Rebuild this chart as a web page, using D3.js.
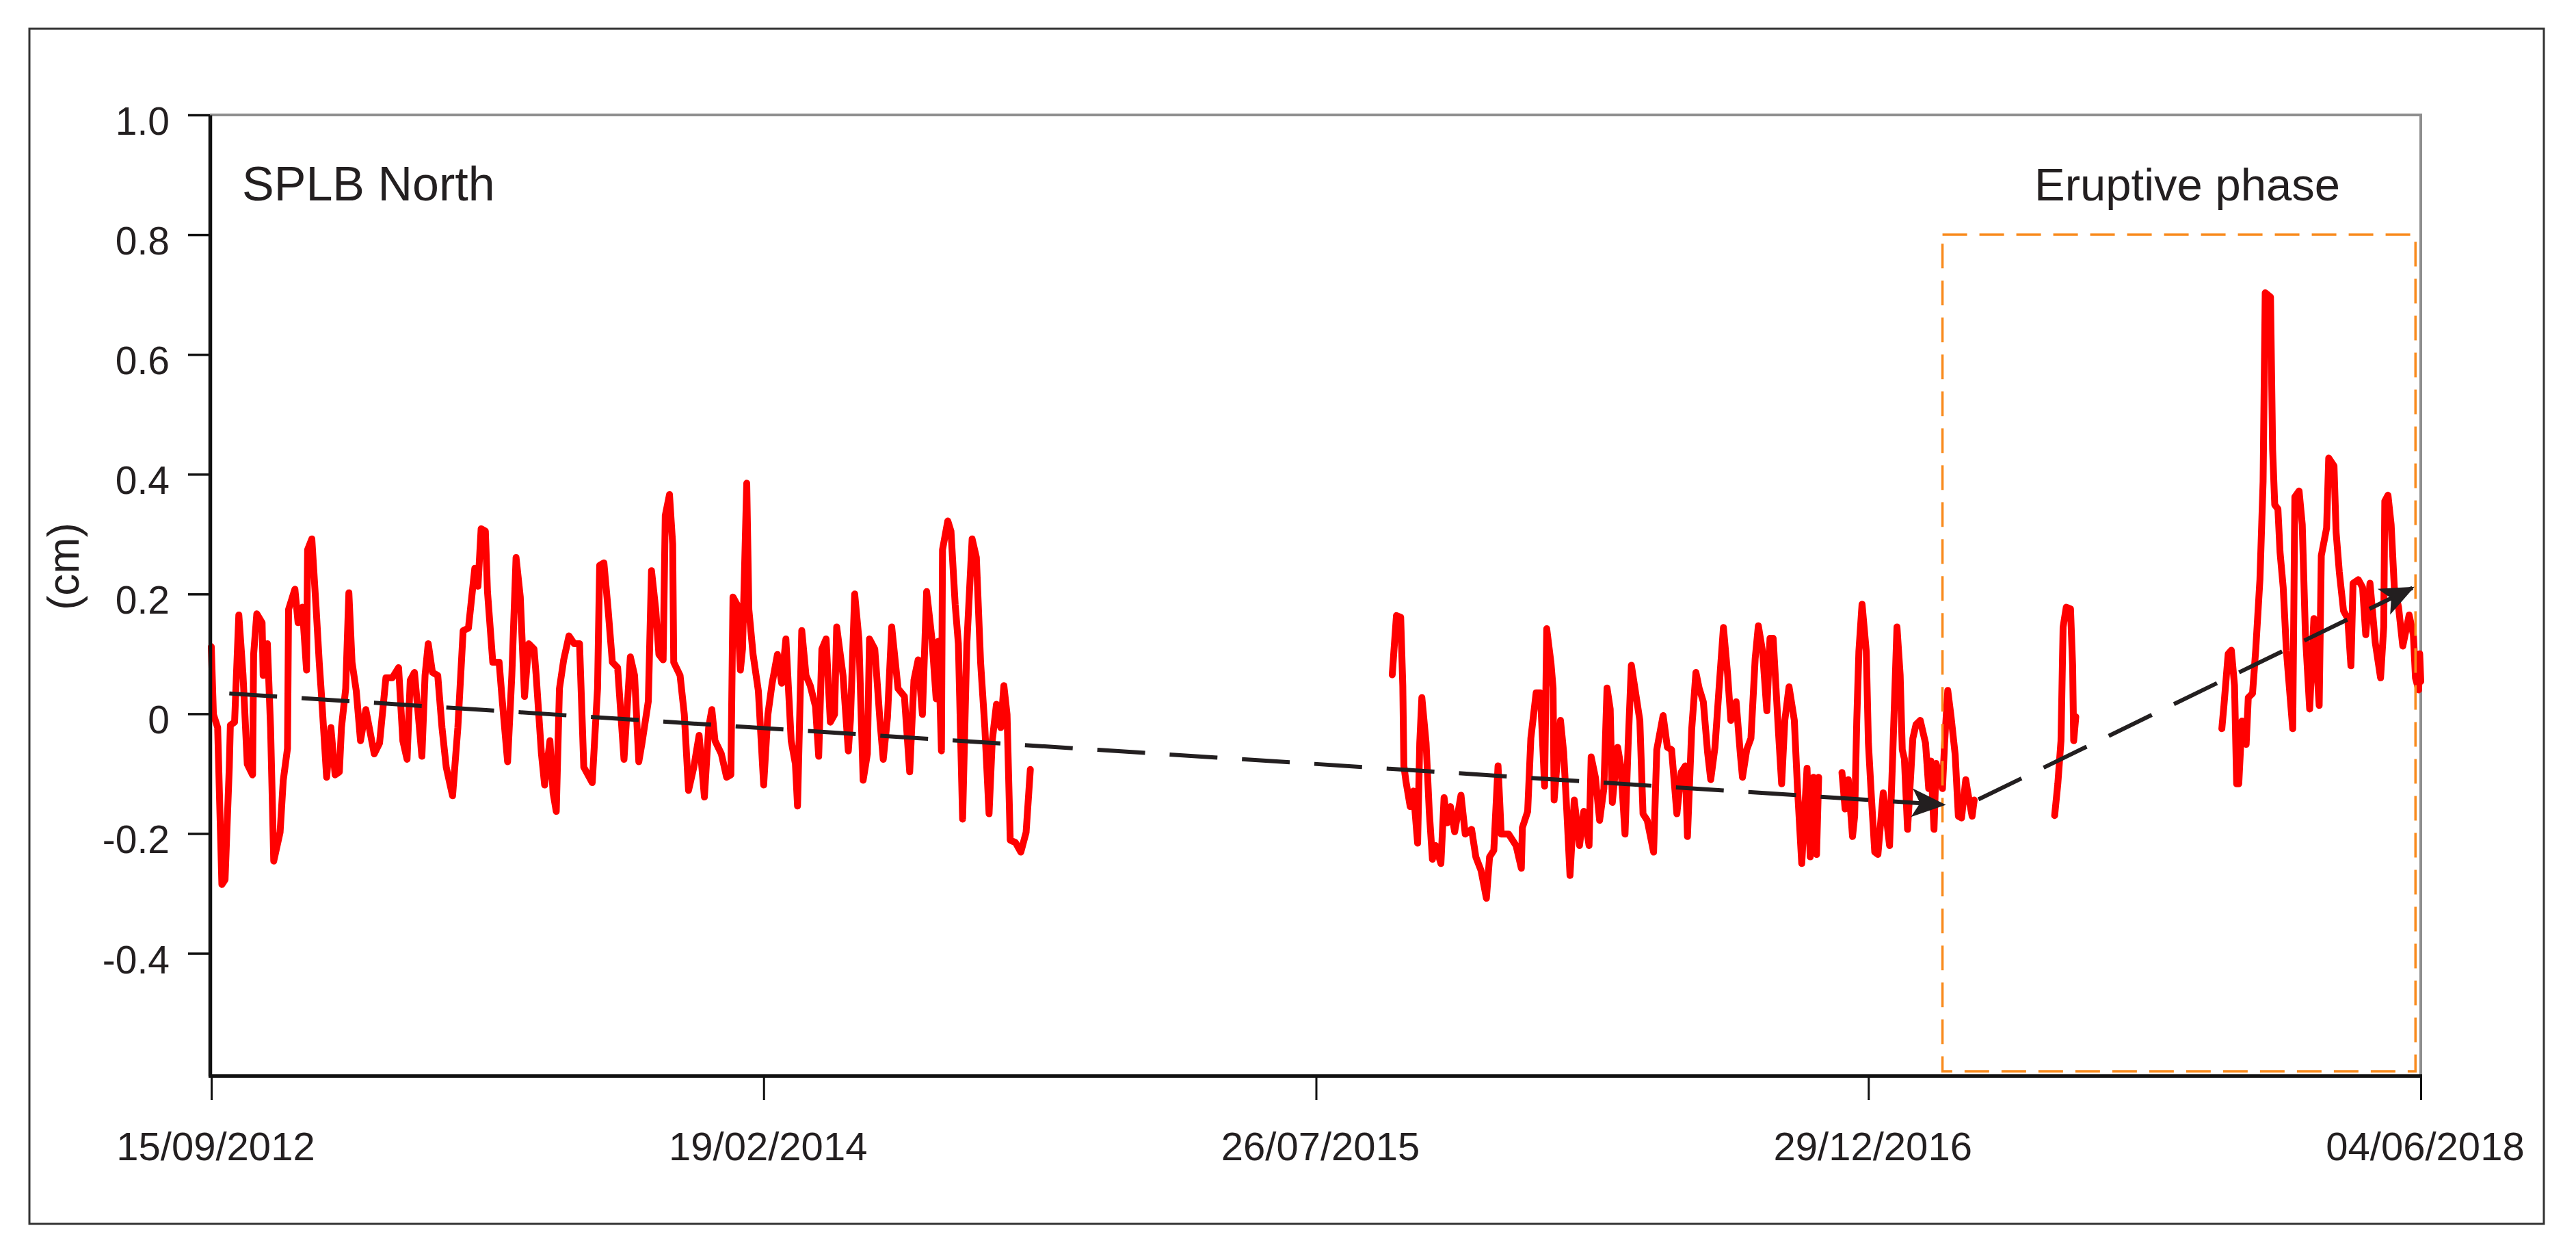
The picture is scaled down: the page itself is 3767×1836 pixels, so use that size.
<!DOCTYPE html>
<html>
<head>
<meta charset="utf-8">
<script src="https://cdn.jsdelivr.net/npm/d3@7"></script>
<style>
  html, body { margin: 0; padding: 0; background: #ffffff; }
  svg { display: block; font-family: "Liberation Sans", Arial, Helvetica, sans-serif; }
</style>
</head>
<body>
<svg id="chart" width="3767" height="1836"></svg>
<script>
// ---------------- DATA ----------------
// x values: days since 15/09/2012, y values: displacement in cm
const startDate = "2012-09-15";
const endDate = "2018-06-04";
const xTickLabels = ["15/09/2012", "19/02/2014", "26/07/2015", "29/12/2016", "04/06/2018"];
const yTickValues = [1.0, 0.8, 0.6, 0.4, 0.2, 0, -0.2, -0.4];
const yDomain = [-0.605, 1.0];
const stationLabel = "SPLB North";
const phaseLabel = "Eruptive phase";
const yAxisLabel = "(cm)";

const segment1 = [
  [0,0.112],[2,-0.001],[6,-0.023],[10,-0.285],[13,-0.277],[17,-0.089],[18,-0.019],[22,-0.014],
  [26,0.165],[30,0.064],[34,-0.084],[39,-0.102],[40,0.099],[43,0.167],[48,0.152],[49,0.064],
  [53,0.117],[56,-0.023],[59,-0.246],[65,-0.198],[68,-0.111],[72,-0.058],[73,0.174],[79,0.208],
  [82,0.152],[86,0.178],[90,0.073],[91,0.274],[95,0.292],[99,0.178],[102,0.086],[104,0.034],
  [109,-0.106],[113,-0.023],[117,-0.102],[121,-0.097],[123,-0.023],[127,0.042],[130,0.202],[133,0.086],
  [137,0.038],[141,-0.045],[146,0.007],[154,-0.067],[159,-0.049],[165,0.060],[171,0.060],[177,0.077],
  [181,-0.045],[185,-0.076],[188,0.056],[192,0.069],[196,-0.010],[199,-0.071],[202,0.064],[205,0.117],
  [209,0.069],[214,0.064],[218,-0.023],[222,-0.089],[228,-0.137],[233,-0.023],[238,0.139],[243,0.143],
  [249,0.243],[252,0.213],[255,0.309],[259,0.305],[261,0.204],[266,0.086],[272,0.086],[275,0.021],
  [280,-0.080],[284,0.064],[288,0.261],[292,0.195],[296,0.029],[300,0.117],[305,0.108],[307,0.064],
  [312,-0.067],[315,-0.119],[320,-0.045],[323,-0.132],[326,-0.163],[329,0.042],[333,0.090],[338,0.130],
  [343,0.117],[348,0.117],[352,-0.089],[360,-0.115],[365,0.042],[367,0.248],[371,0.252],[375,0.174],
  [379,0.086],[384,0.077],[390,-0.076],[396,0.095],[400,0.064],[404,-0.080],[407,-0.049],[413,0.021],
  [416,0.239],[420,0.174],[423,0.099],[427,0.090],[429,0.331],[433,0.366],[436,0.283],[437,0.086],
  [443,0.064],[447,-0.001],[451,-0.128],[456,-0.089],[461,-0.036],[466,-0.139],[470,-0.023],[473,0.007],
  [476,-0.045],[482,-0.067],[487,-0.106],[491,-0.102],[493,0.195],[497,0.182],[500,0.073],[502,0.108],
  [506,0.385],[508,0.174],[512,0.099],[517,0.038],[522,-0.119],[526,-0.001],[530,0.051],[535,0.099],
  [539,0.051],[543,0.125],[548,-0.045],[552,-0.084],[554,-0.154],[558,0.139],[562,0.064],[566,0.047],
  [571,0.012],[574,-0.071],[577,0.108],[581,0.125],[585,-0.014],[589,-0.001],[591,0.145],[597,0.064],
  [602,-0.062],[604,-0.010],[608,0.200],[612,0.125],[616,-0.111],[620,-0.067],[622,0.125],[627,0.108],
  [632,-0.014],[635,-0.076],[639,-0.006],[643,0.145],[649,0.042],[655,0.029],[660,-0.097],[664,0.056],
  [668,0.090],[672,-0.001],[676,0.204],[681,0.125],[685,0.025],[687,0.121],[690,-0.062],[691,0.274],
  [696,0.322],[699,0.305],[703,0.182],[706,0.117],[710,-0.176],[714,0.117],[719,0.292],[723,0.261],
  [727,0.086],[731,-0.023],[735,-0.167],[738,-0.045],[742,0.016],[746,-0.023],[749,0.047],[752,-0.001],
  [755,-0.211],[760,-0.215],[765,-0.231],[770,-0.198],[774,-0.093]
];

const segment2 = [
  [1116,0.065],[1120,0.164],[1124,0.161],[1126,0.046],[1127,-0.087],[1129,-0.113],[1133,-0.155],[1136,-0.129],
  [1140,-0.216],[1142,-0.049],[1144,0.027],[1148,-0.049],[1151,-0.163],[1154,-0.243],[1157,-0.220],[1162,-0.250],
  [1165,-0.140],[1168,-0.182],[1171,-0.155],[1175,-0.197],[1181,-0.136],[1185,-0.201],[1191,-0.193],[1195,-0.239],
  [1200,-0.262],[1205,-0.308],[1208,-0.239],[1212,-0.228],[1216,-0.087],[1219,-0.201],[1222,-0.201],[1226,-0.201],
  [1233,-0.220],[1238,-0.258],[1239,-0.190],[1244,-0.163],[1247,-0.041],[1252,0.035],[1256,0.035],[1260,-0.121],
  [1262,0.142],[1266,0.085],[1268,0.043],[1269,-0.144],[1275,-0.011],[1278,-0.064],[1281,-0.163],[1284,-0.270],
  [1288,-0.144],[1293,-0.220],[1297,-0.163],[1302,-0.220],[1304,-0.072],[1308,-0.106],[1312,-0.178],[1316,-0.125],
  [1319,0.043],[1322,0.008],[1324,-0.148],[1329,-0.056],[1332,-0.087],[1336,-0.201],[1339,-0.049],[1342,0.081],
  [1346,0.035],[1350,-0.011],[1353,-0.167],[1357,-0.178],[1363,-0.231],[1366,-0.060],[1372,-0.003],[1376,-0.056],
  [1380,-0.060],[1385,-0.167],[1389,-0.098],[1393,-0.087],[1395,-0.205],[1399,-0.026],[1403,0.069],[1406,0.043],
  [1410,0.020],[1414,-0.064],[1417,-0.110],[1421,-0.056],[1425,0.046],[1429,0.144],[1433,0.065],[1436,-0.011],
  [1441,0.020],[1445,-0.068],[1447,-0.106],[1451,-0.060],[1455,-0.041],[1459,0.092],[1462,0.147],[1466,0.104],
  [1470,0.005],[1473,0.126],[1476,0.126],[1481,-0.030],[1484,-0.117],[1487,-0.011],[1491,0.045],[1496,-0.011],
  [1499,-0.125],[1503,-0.250],[1508,-0.091],[1511,-0.239],[1514,-0.106],[1517,-0.235],[1519,-0.106]
];

const segment3 = [
  [1541,-0.098],[1544,-0.159],[1547,-0.110],[1551,-0.205],[1553,-0.171],[1555,-0.011],[1557,0.104],[1560,0.183],
  [1564,0.104],[1566,-0.049],[1569,-0.144],[1572,-0.231],[1575,-0.235],[1580,-0.132],[1583,-0.174],[1586,-0.220],
  [1589,-0.068],[1593,0.145],[1596,0.065],[1598,-0.060],[1600,-0.075],[1603,-0.193],[1608,-0.041],[1611,-0.018],
  [1615,-0.011],[1620,-0.049],[1623,-0.125],[1625,-0.079],[1628,-0.193],[1630,-0.083],[1636,-0.125],[1638,-0.049],
  [1641,0.039],[1644,-0.003],[1648,-0.068],[1651,-0.171],[1654,-0.174],[1658,-0.110],[1660,-0.132],[1664,-0.171],
  [1666,-0.144]
];

const segment4 = [
  [1742,-0.170],[1745,-0.117],[1748,-0.045],[1750,0.145],[1753,0.178],[1757,0.175],[1759,0.080],[1760,-0.045],
  [1762,-0.005]
];

const segment5 = [
  [1900,-0.025],[1902,0.014],[1906,0.100],[1909,0.106],[1912,0.047],[1914,-0.117],[1916,-0.117],[1919,-0.012],
  [1923,-0.051],[1925,0.027],[1929,0.034],[1932,0.106],[1936,0.224],[1939,0.388],[1941,0.703],[1946,0.696],
  [1948,0.441],[1950,0.349],[1953,0.342],[1955,0.270],[1958,0.211],[1961,0.106],[1964,0.040],[1967,-0.025],
  [1969,0.362],[1973,0.372],[1976,0.316],[1979,0.132],[1983,0.008],[1987,0.159],[1992,0.014],[1994,0.264],
  [1999,0.310],[2001,0.427],[2006,0.414],[2008,0.303],[2011,0.237],[2015,0.172],[2019,0.159],[2022,0.080],
  [2024,0.218],[2029,0.224],[2033,0.211],[2036,0.132],[2040,0.218],[2045,0.119],[2050,0.060],[2053,0.145],
  [2054,0.355],[2057,0.365],[2060,0.316],[2063,0.211],[2067,0.178],[2071,0.113],[2077,0.165],[2081,0.132],
  [2083,0.060],[2086,0.040],[2087,0.100],[2088,0.054]
];

const segments = [segment1, segment2, segment3, segment4, segment5];

// dashed trend arrows: [day, cm]
const trendArrow1 = [[17, 0.034], [1638, -0.152]];
const trendArrow2 = [[1670, -0.143], [2081, 0.211]];

// eruptive phase box: days and cm limits
const eruptiveDays = [1636, 2083];
const eruptiveRange = [-0.597, 0.8];

// ---------------- CHART ----------------
const svg = d3.select("#chart");
const W = 3767, H = 1836;
const TXT = "#231f20";

svg.append("rect").attr("x", 0).attr("y", 0).attr("width", W).attr("height", H).attr("fill", "#ffffff");

// outer frame
svg.append("rect")
  .attr("x", 43).attr("y", 42).attr("width", 3677).attr("height", 1747)
  .attr("fill", "none").attr("stroke", "#333333").attr("stroke-width", 3);

const t0 = new Date(startDate + "T00:00:00Z");
const t1 = new Date(endDate + "T00:00:00Z");
const dayToDate = d => d3.utcDay.offset(t0, d);

const x = d3.scaleUtc().domain([t0, t1]).range([309, 3540]);
const y = d3.scaleLinear().domain(yDomain).range([1573, 168]);

const parseTick = d3.utcParse("%d/%m/%Y");
const xTickDates = xTickLabels.map(parseTick);

// plot top & right border (gray)
svg.append("path")
  .attr("d", `M${307},${y(1.0)} H${x(t1)} V${y(yDomain[0])}`)
  .attr("fill", "none").attr("stroke", "#8e8e8e").attr("stroke-width", 4);

// data line
const line = d3.line()
  .x(d => x(dayToDate(d[0])))
  .y(d => y(d[1]))
  .curve(d3.curveLinear);

svg.append("g").selectAll("path").data(segments).join("path")
  .attr("d", line)
  .attr("fill", "none")
  .attr("stroke", "#ff0000")
  .attr("stroke-width", 10)
  .attr("stroke-linejoin", "round")
  .attr("stroke-linecap", "round");

// eruptive phase box
svg.append("rect")
  .attr("x", x(dayToDate(eruptiveDays[0])))
  .attr("y", y(eruptiveRange[1]))
  .attr("width", x(dayToDate(eruptiveDays[1])) - x(dayToDate(eruptiveDays[0])))
  .attr("height", y(eruptiveRange[0]) - y(eruptiveRange[1]))
  .attr("fill", "none")
  .attr("stroke", "#f98a1c")
  .attr("stroke-width", 3.5)
  .attr("stroke-dasharray", "36,18");

// arrows
const defs = svg.append("defs");
defs.append("marker")
  .attr("id", "arrowhead")
  .attr("markerUnits", "userSpaceOnUse")
  .attr("viewBox", "-54 -24 58 48")
  .attr("markerWidth", 58).attr("markerHeight", 48)
  .attr("refX", 0).attr("refY", 0)
  .attr("orient", "auto")
  .append("path")
  .attr("d", "M2,0 L-48,-21 L-36,0 L-48,21 Z")
  .attr("fill", TXT);

const arrowLine = d3.line().x(d => x(dayToDate(d[0]))).y(d => y(d[1]));
[trendArrow1, trendArrow2].forEach(a => {
  svg.append("path")
    .attr("d", arrowLine(a))
    .attr("fill", "none")
    .attr("stroke", TXT)
    .attr("stroke-width", 6)
    .attr("stroke-dasharray", "70,36")
    .attr("marker-end", "url(#arrowhead)");
});

// y axis
const yAxis = d3.axisLeft(y)
  .tickValues(yTickValues)
  .tickSizeInner(32).tickSizeOuter(0).tickPadding(27)
  .tickFormat(d => d === 0 ? "0" : d.toFixed(1));

const gy = svg.append("g").attr("transform", "translate(307,0)").call(yAxis);
gy.select(".domain").attr("stroke", "#111").attr("stroke-width", 5.5);
gy.selectAll(".tick line").attr("stroke", "#111").attr("stroke-width", 3.5);
gy.selectAll(".tick text")
  .attr("font-size", 57).attr("fill", TXT)
  .attr("font-family", "'Liberation Sans', Arial, sans-serif")
  .attr("dy", "0.5em");

// x axis
const xAxis = d3.axisBottom(x)
  .tickValues(xTickDates)
  .tickSizeInner(35).tickSizeOuter(0).tickPadding(47)
  .tickFormat(d3.utcFormat("%d/%m/%Y"));

const gx = svg.append("g").attr("transform", `translate(0,${y(yDomain[0])})`).call(xAxis);
gx.select(".domain").attr("stroke", "#111").attr("stroke-width", 5.5)
  .attr("d", `M305,0 H${x(t1) + 2}`);
gx.selectAll(".tick line").attr("stroke", "#111").attr("stroke-width", 3);
gx.selectAll(".tick text")
  .attr("font-size", 58).attr("fill", TXT)
  .attr("font-family", "'Liberation Sans', Arial, sans-serif")
  .attr("dx", 6);

// y axis label
svg.append("text")
  .attr("transform", "translate(115,828) rotate(-90)")
  .attr("text-anchor", "middle")
  .attr("font-size", 64).attr("fill", TXT)
  .text(yAxisLabel);

// station label
svg.append("text")
  .attr("x", 354).attr("y", 293)
  .attr("font-size", 70).attr("fill", TXT)
  .text(stationLabel);

// phase label
svg.append("text")
  .attr("x", 2975).attr("y", 293)
  .attr("font-size", 67).attr("fill", TXT)
  .text(phaseLabel);
</script>
</body>
</html>
